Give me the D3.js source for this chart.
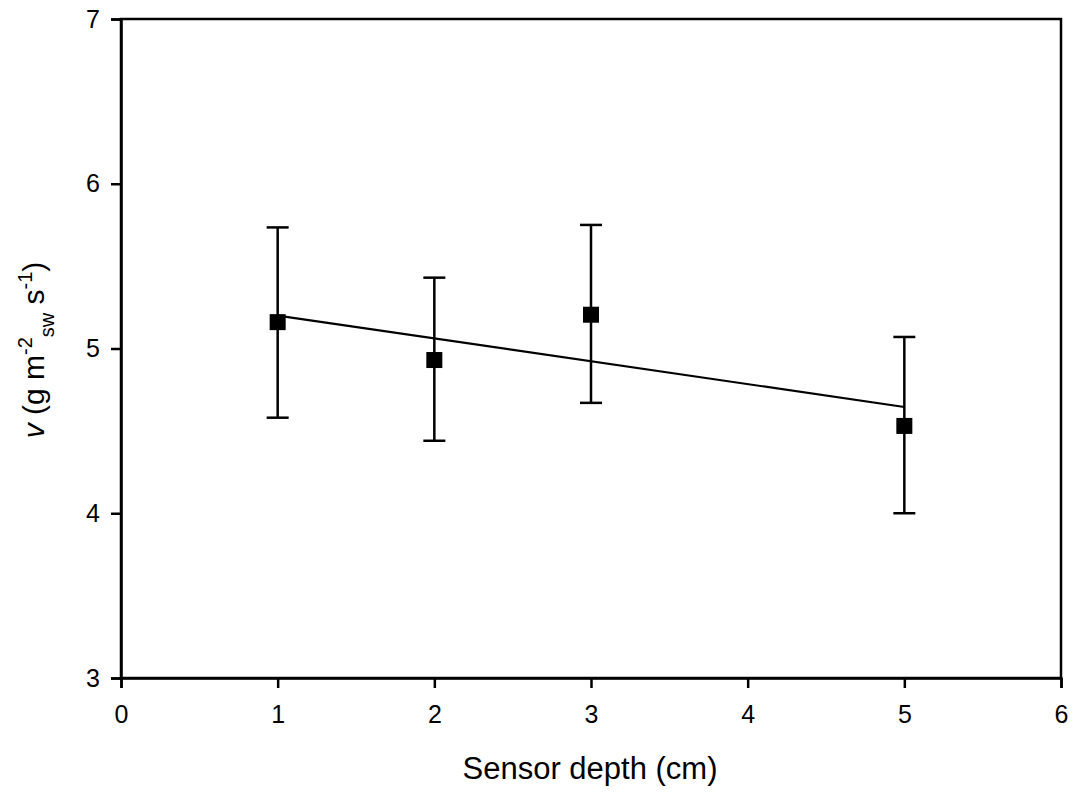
<!DOCTYPE html>
<html lang="en">
<head>
<meta charset="utf-8" />
<title>Sensor depth</title>
<script src="https://cdn.jsdelivr.net/npm/d3@7"></script>
<style>
  body { margin: 0; background: #fff; }
  text { font-family: "Liberation Sans", Arial, sans-serif; fill: #000; }
</style>
</head>
<body>
<svg width="1074" height="792"></svg>
<script>
    // data
    var depth = [1, 2, 3, 5];
    var meanV = [5.16, 4.93, 5.205, 4.53];
    var upperV = [5.735, 5.43, 5.75, 5.07];
    var lowerV = [4.58, 4.44, 4.67, 4.00];
    var fitX = [1, 5];
    var fitY = [5.20, 4.645];
    var xTicks = [0, 1, 2, 3, 4, 5, 6];
    var yTicks = [3, 4, 5, 6, 7];

    var svg = d3.select("svg");
    var mLeft = 121, mRight = 1061, mTop = 19, mBottom = 678;

    var x = d3.scaleLinear().domain([0, 6]).range([mLeft, mRight]);
    var y = d3.scaleLinear().domain([3, 7]).range([mBottom, mTop]);

    // frame
    svg.append("rect")
        .attr("x", mLeft).attr("y", mTop)
        .attr("width", mRight - mLeft).attr("height", mBottom - mTop)
        .attr("fill", "none").attr("stroke", "#000").attr("stroke-width", 2.5);

    var xAxis = svg.append("g")
        .attr("transform", "translate(0," + mBottom + ")")
        .call(d3.axisBottom(x).tickValues(xTicks).tickFormat(d3.format("d"))
            .tickSizeOuter(0).tickSize(10).tickPadding(17));
    var yAxis = svg.append("g")
        .attr("transform", "translate(" + mLeft + ",0)")
        .call(d3.axisLeft(y).tickValues(yTicks).tickFormat(d3.format("d"))
            .tickSizeOuter(0).tickSize(10).tickPadding(11));

    [xAxis, yAxis].forEach(function (g) {
        g.select(".domain").attr("stroke-width", 2.5);
        g.selectAll(".tick line").attr("stroke-width", 2.5);
        g.selectAll(".tick text").style("font-size", "25px").attr("fill", "#000");
    });

    // regression line
    svg.append("line")
        .attr("x1", x(fitX[0])).attr("y1", y(fitY[0]))
        .attr("x2", x(fitX[1])).attr("y2", y(fitY[1]))
        .attr("stroke", "#000").attr("stroke-width", 2.2);

    var pts = depth.map(function (d, i) {
        return { x: d, m: meanV[i], hi: upperV[i], lo: lowerV[i] };
    });

    var eb = svg.append("g").attr("stroke", "#000").attr("stroke-width", 2.5);
    pts.forEach(function (p) {
        eb.append("line")
            .attr("x1", x(p.x)).attr("x2", x(p.x))
            .attr("y1", y(p.hi)).attr("y2", y(p.lo));
        [p.hi, p.lo].forEach(function (v) {
            eb.append("line")
                .attr("x1", x(p.x) - 11).attr("x2", x(p.x) + 11)
                .attr("y1", y(v)).attr("y2", y(v));
        });
    });

    svg.append("g").selectAll("rect")
        .data(pts).enter().append("rect")
        .attr("x", function (d) { return x(d.x) - 8; })
        .attr("y", function (d) { return y(d.m) - 8; })
        .attr("width", 16).attr("height", 16)
        .attr("fill", "#000");

    // axis titles
    svg.append("text")
        .attr("x", 590).attr("y", 779)
        .attr("text-anchor", "middle")
        .style("font-size", "31px")
        .text("Sensor depth (cm)");

    var yt = svg.append("text")
        .attr("transform", "translate(44," + 350 + ") rotate(-90)")
        .attr("text-anchor", "middle")
        .style("font-size", "30px");
    yt.append("tspan").style("font-style", "italic").text("v");
    yt.append("tspan").text(" (g m");
    yt.append("tspan").attr("dy", -12).style("font-size", "20px").text("-2");
    yt.append("tspan").attr("dy", 22).style("font-size", "20px").text("sw");
    yt.append("tspan").attr("dy", -10).text(" s");
    yt.append("tspan").attr("dy", -12).style("font-size", "20px").text("-1");
    yt.append("tspan").attr("dy", 12).text(")");
</script>
</body>
</html>
